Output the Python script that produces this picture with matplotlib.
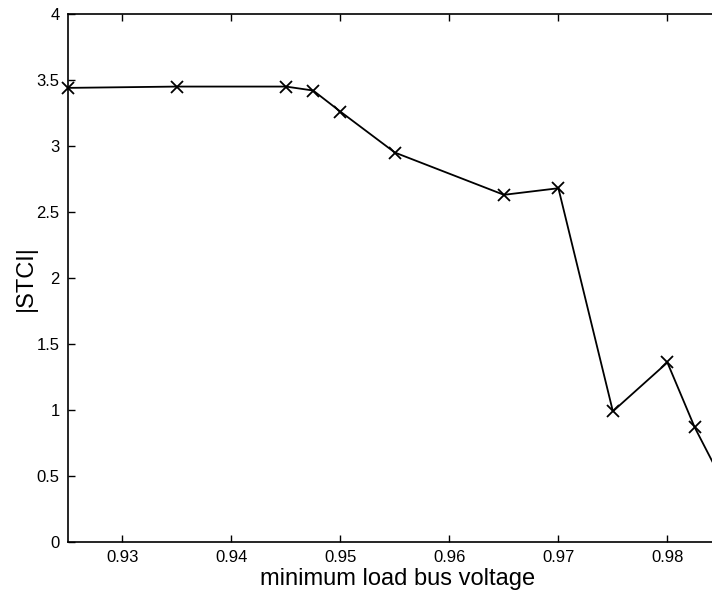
import matplotlib.pyplot as plt

plt.rcParams['font.family'] = ['Liberation Sans', 'DejaVu Sans']

# data
voltage = [0.925, 0.935, 0.945, 0.9475, 0.95, 0.955, 0.965, 0.97, 0.975, 0.98, 0.9825, 0.985]
stci = [3.44, 3.45, 3.45, 3.42, 3.26, 2.95, 2.63, 2.68, 0.99, 1.36, 0.87, 0.47]

xticks = [0.93, 0.94, 0.95, 0.96, 0.97, 0.98]
yticks = [0, 0.5, 1, 1.5, 2, 2.5, 3, 3.5, 4]
yticklabels = ['0', '0.5', '1', '1.5', '2', '2.5', '3', '3.5', '4']

fig = plt.figure(figsize=(7.12, 5.94), dpi=100)
# axes runs past the right edge, like the cropped original
ax = fig.add_axes([0.0955, 0.0875, 0.926, 0.889])

ax.plot(voltage, stci, color='black', linewidth=1.3, marker='x',
        markersize=8, markeredgewidth=1.3, clip_on=False)

ax.set_xlim(0.925, 0.9855)
ax.set_ylim(0, 4)
ax.set_xticks(xticks)
ax.set_xticklabels([f'{t:.2f}' for t in xticks])
ax.set_yticks(yticks)
ax.set_yticklabels(yticklabels)

ax.tick_params(direction='in', length=5, width=1, top=True, right=True,
               labelsize=12, pad=6)
for s in ax.spines.values():
    s.set_linewidth(1.2)

ax.set_xlabel('minimum load bus voltage', fontsize=17, labelpad=2)
ax.set_ylabel('|STCI|', fontsize=17, labelpad=0)

fig.savefig('out.png', dpi=100)
